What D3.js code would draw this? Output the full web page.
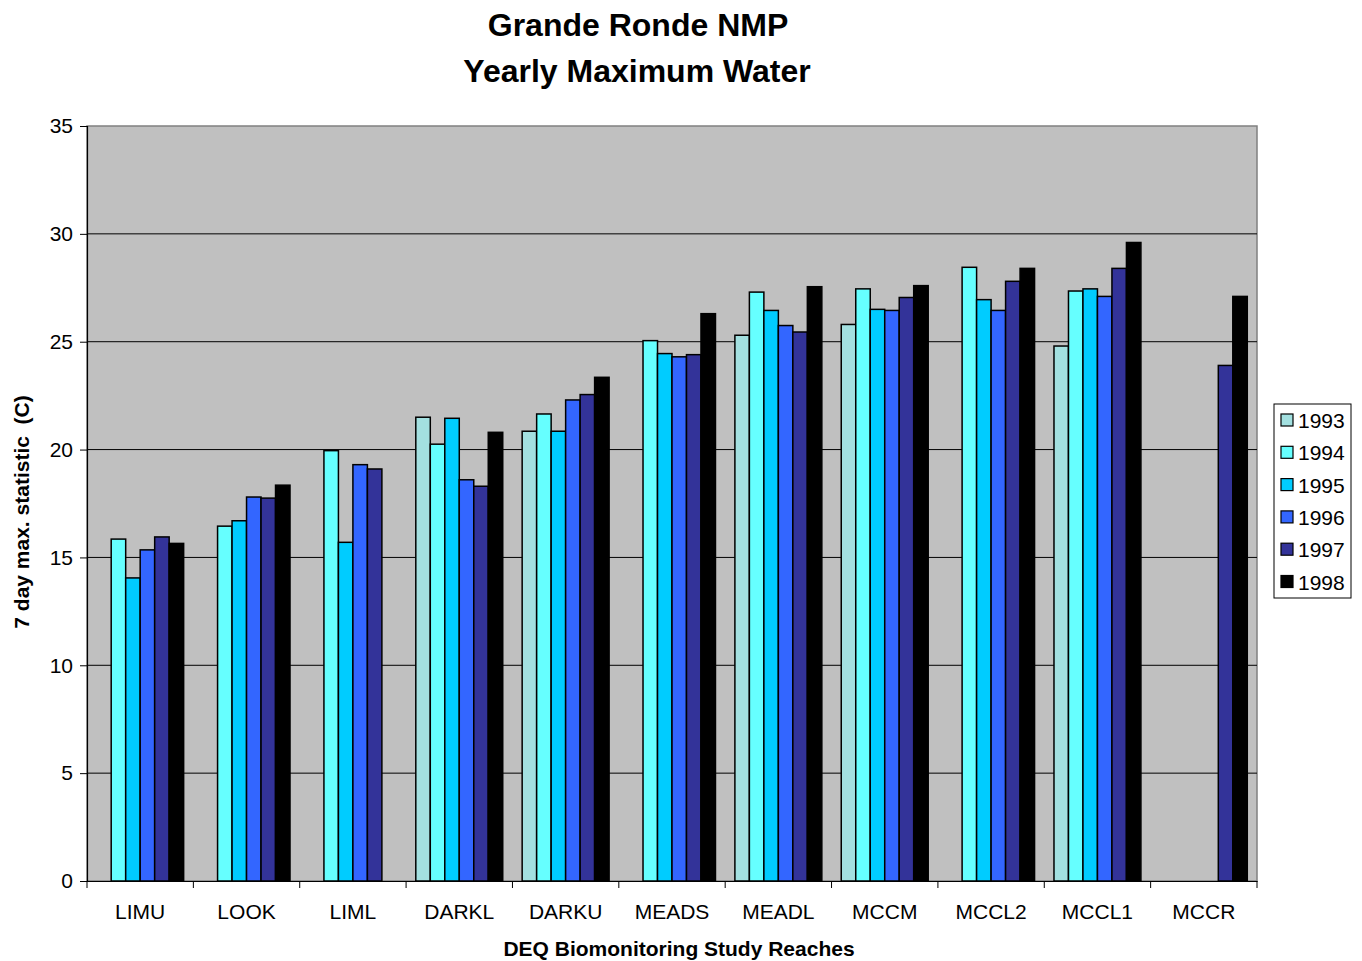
<!DOCTYPE html>
<html>
<head>
<meta charset="utf-8">
<script src="https://cdn.jsdelivr.net/npm/d3@7"></script>
<style>
  body { margin: 0; background: #fff; }
  svg { display: block; font-family: "Liberation Sans", Arial, sans-serif; }
</style>
</head>
<body>
<svg id="chart" width="1362" height="961"></svg>
<script>
// Study reaches along the x axis
const reaches = ["LIMU", "LOOK", "LIML", "DARKL", "DARKU", "MEADS", "MEADL", "MCCM", "MCCL2", "MCCL1", "MCCR"];
const years = ["1993", "1994", "1995", "1996", "1997", "1998"];

// 7-day maximum water temperature (C) per year; null = no record
const v1993 = [null, null, null, 21.5, 20.85, null, 25.3, 25.8, null, 24.8, null];
const v1994 = [15.85, 16.45, 19.95, 20.25, 21.65, 25.05, 27.3, 27.45, 28.45, 27.35, null];
const v1995 = [14.05, 16.7, 15.7, 21.45, 20.85, 24.45, 26.45, 26.5, 26.95, 27.45, null];
const v1996 = [15.35, 17.8, 19.3, 18.6, 22.3, 24.3, 25.75, 26.45, 26.45, 27.1, null];
const v1997 = [15.95, 17.75, 19.1, 18.3, 22.55, 24.4, 25.45, 27.05, 27.8, 28.4, 23.9];
const v1998 = [15.65, 18.35, null, 20.8, 23.35, 26.3, 27.55, 27.6, 28.4, 29.6, 27.1];

const yTicks = [0, 5, 10, 15, 20, 25, 30, 35];
const colors = ["#A3E0E0", "#66FFFF", "#00CCFF", "#3366FF", "#333399", "#000000"];

const seriesValues = [v1993, v1994, v1995, v1996, v1997, v1998];

const svg = d3.select("#chart");
const plot = { left: 87, top: 126, right: 1257, bottom: 881 };
const FONT = "Liberation Sans, Arial, sans-serif";

const x = d3.scaleBand().domain(reaches).range([plot.left, plot.right]).paddingInner(0).paddingOuter(0);
const xInner = d3.scaleBand().domain(years).range([0, x.bandwidth()]).paddingInner(0).paddingOuter(0.67);
const y = d3.scaleLinear().domain([0, 35]).range([plot.bottom, plot.top]);

// plot background
svg.append("rect")
  .attr("x", plot.left).attr("y", plot.top)
  .attr("width", plot.right - plot.left).attr("height", plot.bottom - plot.top)
  .attr("fill", "#C0C0C0").attr("stroke", "#808080").attr("stroke-width", 1.5);

// horizontal gridlines
svg.append("g").selectAll("line").data(yTicks.filter(t => t > 0 && t < 35)).join("line")
  .attr("x1", plot.left).attr("x2", plot.right)
  .attr("y1", d => y(d)).attr("y2", d => y(d))
  .attr("stroke", "#000").attr("stroke-width", 1);

// bars
const groups = svg.append("g").selectAll("g").data(years).join("g")
  .attr("fill", (d, i) => colors[i]);
groups.each(function(yr, si) {
  const recs = reaches.map((r, ci) => ({ reach: r, v: seriesValues[si][ci] })).filter(d => d.v != null);
  d3.select(this).selectAll("rect").data(recs).join("rect")
    .attr("x", d => x(d.reach) + xInner(yr))
    .attr("y", d => y(d.v))
    .attr("width", xInner.bandwidth())
    .attr("height", d => y(0) - y(d.v))
    .attr("stroke", "#000").attr("stroke-width", 1.5);
});

// y axis
const yAxis = d3.axisLeft(y).tickValues(yTicks).tickSize(7).tickPadding(7).tickFormat(d3.format("d"));
const gy = svg.append("g").attr("transform", `translate(${plot.left},0)`).call(yAxis);
gy.select(".domain").attr("stroke", "#000").attr("stroke-width", 1.2);
gy.selectAll(".tick line").attr("stroke", "#000");
gy.selectAll("text").attr("font-size", 21).attr("fill", "#000").attr("font-family", FONT);

// x axis: labels centred under each reach, tick marks on reach boundaries
const xAxis = d3.axisBottom(x).tickSize(0).tickPadding(23);
const gx = svg.append("g").attr("transform", `translate(0,${plot.bottom})`).call(xAxis);
gx.select(".domain").attr("stroke", "#000").attr("stroke-width", 1.2);
gx.selectAll("text").attr("font-size", 21).attr("fill", "#000").attr("font-family", FONT);
const bounds = reaches.map(r => x(r)).concat([x(reaches[reaches.length - 1]) + x.bandwidth()]);
svg.append("g").selectAll("line").data(bounds).join("line")
  .attr("x1", d => d).attr("x2", d => d)
  .attr("y1", plot.bottom).attr("y2", plot.bottom + 7)
  .attr("stroke", "#000");

// titles
svg.append("text").attr("x", 638).attr("y", 36).attr("text-anchor", "middle")
  .attr("font-size", 32).attr("font-weight", "bold").text("Grande Ronde NMP");
svg.append("text").attr("x", 637).attr("y", 82).attr("text-anchor", "middle")
  .attr("font-size", 32).attr("font-weight", "bold").text("Yearly Maximum Water");
svg.append("text").attr("x", 679).attr("y", 956).attr("text-anchor", "middle")
  .attr("font-size", 21).attr("font-weight", "bold").text("DEQ Biomonitoring Study Reaches");
svg.append("text").attr("transform", "translate(29,512) rotate(-90)").attr("text-anchor", "middle")
  .attr("font-size", 21).attr("font-weight", "bold").attr("xml:space", "preserve")
  .style("white-space", "pre").text("7 day max. statistic  (C)");

// legend
const lg = svg.append("g");
lg.append("rect").attr("x", 1274).attr("y", 404).attr("width", 77).attr("height", 194)
  .attr("fill", "#fff").attr("stroke", "#000").attr("stroke-width", 1);
const items = lg.selectAll("g").data(years).join("g")
  .attr("transform", (d, i) => `translate(1281,${420 + i * 32.3})`);
items.append("rect").attr("x", 0).attr("y", -6).attr("width", 12).attr("height", 12)
  .attr("fill", (d, i) => colors[i]).attr("stroke", "#000").attr("stroke-width", 1.2);
items.append("text").attr("x", 17).attr("y", 8).attr("font-size", 21).text(d => d);
</script>
</body>
</html>
